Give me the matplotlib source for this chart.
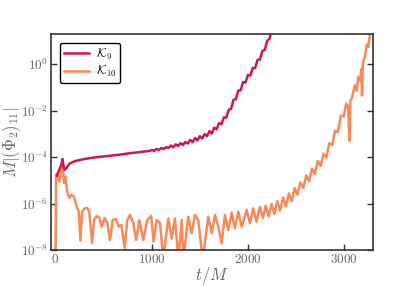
import numpy as np
import matplotlib
matplotlib.use("Agg")
import matplotlib.pyplot as plt

plt.rcParams["mathtext.fontset"] = "cm"
plt.rcParams["font.family"] = ["DejaVu Serif"]

# --- dane (log10 |Phi_2|_11 * M) ---
t_k9 = [15, 40, 60, 75, 85, 95, 120, 150, 200, 290, 400, 500, 640, 800, 983,
        1000, 1025, 1050, 1075, 1100, 1125, 1150, 1175, 1200, 1225, 1250, 1275,
        1300, 1325, 1350, 1375, 1400, 1425, 1450, 1475, 1500, 1525, 1550, 1575,
        1600, 1625, 1650, 1675, 1700, 1725, 1750, 1775, 1800, 1825, 1850, 1875,
        1900, 1925, 1950, 1975, 2000, 2025, 2050, 2075, 2100, 2125, 2150, 2175,
        2200, 2225, 2250]
log_k9 = [-4.80, -4.55, -4.35, -4.08, -4.40, -4.55, -4.45, -4.27, -4.18, -4.09,
          -4.02, -3.97, -3.91, -3.82, -3.73,
          -3.69, -3.73, -3.65, -3.69, -3.61, -3.65, -3.57, -3.605, -3.50, -3.575,
          -3.45, -3.525, -3.40, -3.475, -3.35, -3.415, -3.26, -3.36, -3.18, -3.28,
          -3.10, -3.195, -3.01, -3.095, -2.88, -2.985, -2.73, -2.81, -2.53, -2.59,
          -2.29, -2.305, -1.96, -1.925, -1.53, -1.51, -1.13, -1.125, -0.76, -0.79,
          -0.46, -0.49, -0.16, -0.165, 0.19, 0.20, 0.57, 0.61, 1.01, 1.095, 1.54]

t_k10 = [0, 8, 21, 42, 56, 77, 90, 104, 125, 145, 166, 194, 222, 243, 260, 277,
         305, 332, 353, 381, 402, 430, 457, 481, 512, 540, 568, 595, 630, 658,
         685, 720, 747, 775, 810, 838, 872, 913, 955, 996, 1020, 1052, 1087,
         1121, 1173, 1208, 1242, 1277, 1312, 1329, 1380, 1415, 1450, 1484, 1530,
         1588, 1623, 1658, 1692, 1727, 1761, 1796, 1831, 1865, 1900, 1935, 1987,
         2021, 2055, 2090, 2124, 2155, 2185, 2215, 2245, 2275, 2305, 2335, 2365,
         2395, 2425, 2455, 2485, 2515, 2545, 2575, 2605, 2635, 2665, 2695, 2725,
         2755, 2785, 2815, 2845, 2875, 2905, 2935, 2965, 2995, 3020, 3040, 3055,
         3065, 3080, 3110, 3130, 3145, 3165, 3180, 3185, 3195, 3215, 3235, 3250,
         3270, 3290]
log_k10 = [-10.0, -4.75, -4.77, -5.06, -4.69, -4.39, -5.12, -4.85, -5.55, -5.76,
           -5.63, -5.71, -6.14, -6.35, -7.60, -6.35, -6.21, -6.19, -6.37, -7.70,
           -6.71, -6.54, -6.62, -7.00, -6.62, -6.84, -7.57, -6.71, -6.67, -7.00,
           -6.92, -7.91, -6.71, -6.49, -6.84, -7.57, -6.71, -7.57, -6.71, -6.54,
           -7.64, -6.71, -6.85, -8.40, -6.64, -7.50, -6.64, -8.40, -6.71, -8.40,
           -6.57, -7.28, -6.49, -6.71, -8.40, -6.57, -7.28, -6.49, -7.00, -7.71,
           -6.49, -7.14, -6.39, -7.07, -6.35, -7.00, -6.28, -6.85, -6.21, -6.78,
           -6.14, -6.62, -6.10, -6.55, -6.02, -6.45, -5.90, -6.30, -5.74, -6.12,
           -5.56, -5.90, -5.33, -5.62, -5.09, -5.34, -4.79, -5.04, -4.49, -4.73,
           -4.17, -4.39, -3.85, -4.02, -3.40, -3.49, -2.87, -2.93, -2.22, -2.25,
           -1.70, -1.80, -3.30, -1.55, -1.48, -0.90, -1.15, -0.55, -0.70, -0.20,
           -1.35, 0.10, 0.30, 0.85, 0.75, 1.35, 1.70]

labels = [r"$\mathcal{K}_9$", r"$\mathcal{K}_{10}$"]
colors = ["#cf1850", "#f88a5a"]
grey = "#666666"

fig = plt.figure(figsize=(4.15, 2.86), dpi=100)
ax = fig.add_axes([0.123, 0.126, 0.776, 0.755])

ax.plot(t_k9, 10.0 ** np.array(log_k9), color=colors[0], lw=1.8, label=labels[0], zorder=3)
ax.plot(t_k10, 10.0 ** np.array(log_k10), color=colors[1], lw=1.8, label=labels[1], zorder=2)

ax.set_yscale("log")
ax.set_xlim(-45, 3300)
ax.set_ylim(1e-8, 20)

ax.set_xticks([0, 1000, 2000, 3000], labels=["$0$", "$1000$", "$2000$", "$3000$"])
ax.set_yticks([1e-8, 1e-6, 1e-4, 1e-2, 1e0],
              labels=[r"$10^{-8}$", r"$10^{-6}$", r"$10^{-4}$", r"$10^{-2}$", r"$10^{0}$"])
ax.minorticks_off()
ax.tick_params(direction="in", length=4, width=1, color="#333333",
               labelcolor=grey, labelsize=9.5, right=True, top=False, pad=2)

for sp in ax.spines.values():
    sp.set_color("#333333")
    sp.set_linewidth(1.2)

ax.set_xlabel(r"$t/M$", fontsize=12, color=grey)
ax.set_ylabel(r"$M|(\Phi_2)_{11}|$", fontsize=12, color=grey)
ax.xaxis.set_label_coords(0.5, -0.07)
ax.yaxis.set_label_coords(-0.088, 0.5)

leg = ax.legend(loc="upper left", fontsize=9, frameon=True, fancybox=True,
                handlelength=2.0, handletextpad=0.6, borderpad=0.3,
                labelspacing=0.2, borderaxespad=0.7)
leg.get_frame().set_edgecolor("black")
leg.get_frame().set_linewidth(1.0)
leg.get_frame().set_alpha(1.0)

fig.savefig("out.png", dpi=100)
